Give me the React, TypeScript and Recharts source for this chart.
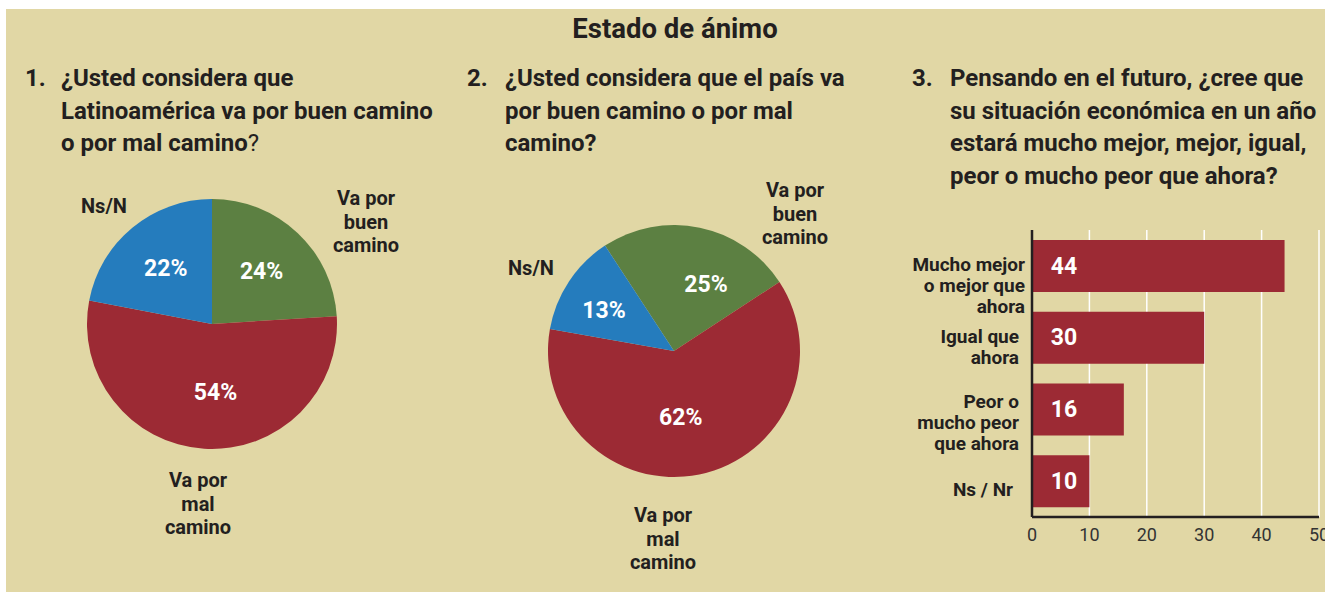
import { Bar, BarChart, CartesianGrid, Cell, LabelList, Pie, PieChart, XAxis, YAxis } from "recharts"

const COR = {
  fondo: "#e1d7a5",
  rojo: "#9c2a34",
  verde: "#5c8042",
  azul: "#257cbd",
  texto: "#231f20",
  eje: "#333333",
}
const FONTE = "Roboto, 'Liberation Sans', Arial, sans-serif"

const titulo = "Estado de ánimo"

const pregunta1 = ["¿Usted considera que", "Latinoamérica va por buen camino", "o por mal camino"]
const pregunta2 = ["¿Usted considera que el país va", "por buen camino o por mal", "camino?"]
const pregunta3 = [
  "Pensando en el futuro, ¿cree que",
  "su situación económica en un año",
  "estará mucho mejor, mejor, igual,",
  "peor o mucho peor que ahora?",
]

// pies: mismo orden de rebanadas en los dos
const rebanadas = [["Va por", "buen", "camino"], ["Va por", "mal", "camino"], ["Ns/N"]]
const latam = [24, 54, 22]
const pais = [25, 62, 13]
const coresPie = [COR.verde, COR.rojo, COR.azul]

// barras
const situacion = ["Mucho mejor|o mejor que|ahora", "Igual que|ahora", "Peor o|mucho peor|que ahora", "Ns / Nr"]
const situacionValores = [44, 30, 16, 10]
const ticksX = [0, 10, 20, 30, 40, 50]

const dadosLatam = rebanadas.map((n, i) => ({ nome: n.join(" "), valor: latam[i] }))
const dadosPais = rebanadas.map((n, i) => ({ nome: n.join(" "), valor: pais[i] }))
const dadosSituacion = situacion.map((c, i) => ({ cat: c, valor: situacionValores[i] }))

// posiciones de los nombres fuera de los pies
const posNomes1 = [
  { x: 366, y: 205, anchor: "middle" },
  { x: 198, y: 487, anchor: "middle" },
  { x: 81, y: 213, anchor: "start" },
]
const posNomes2 = [
  { x: 795, y: 197, anchor: "middle" },
  { x: 663, y: 522, anchor: "middle" },
  { x: 508, y: 275, anchor: "start" },
]

// pequeños corrimientos de los porcentajes dentro de cada rebanada
const ajustePct1 = [
  { dx: 0, dy: 0 },
  { dx: 8, dy: -4 },
  { dx: 0, dy: 0 },
]
const ajustePct2 = [
  { dx: 17, dy: 5 },
  { dx: -8, dy: -5 },
  { dx: -9, dy: 0 },
]

// ajuste fino de las etiquetas del eje Y (borde derecho, primera línea)
const ajusteTick = [
  { dx: -7, dy: 5 },
  { dx: -13, dy: 5 },
  { dx: -13, dy: -1 },
  { dx: -19, dy: 15 },
]

const RAD = Math.PI / 180

function rotuloPct(ajuste: { dx: number; dy: number }[]) {
  return (p: any) => {
    const r = p.outerRadius * 0.58
    const aj = ajuste[p.index] || { dx: 0, dy: 0 }
    const x = p.cx + r * Math.cos(-p.midAngle * RAD) + aj.dx
    const y = p.cy + r * Math.sin(-p.midAngle * RAD) + aj.dy
    return (
      <text
        x={x}
        y={y}
        fill="#fff"
        textAnchor="middle"
        dominantBaseline="central"
        fontFamily={FONTE}
        fontWeight={700}
        fontSize={23}
      >
        {p.value}%
      </text>
    )
  }
}

function Pastel({
  data,
  cx,
  cy,
  r,
  inicio,
  ajuste,
}: {
  data: any[]
  cx: number
  cy: number
  r: number
  inicio: number
  ajuste: { dx: number; dy: number }[]
}) {
  const lado = 300
  return (
    <div style={{ position: "absolute", left: cx - lado / 2, top: cy - lado / 2 }}>
      <PieChart width={lado} height={lado} margin={{ top: 0, right: 0, bottom: 0, left: 0 }}>
        <Pie
          data={data}
          dataKey="valor"
          nameKey="nome"
          cx="50%"
          cy="50%"
          outerRadius={r}
          startAngle={inicio}
          endAngle={inicio - 360}
          stroke="none"
          label={rotuloPct(ajuste)}
          labelLine={false}
          isAnimationActive={false}
        >
          {data.map((_, i) => (
            <Cell key={i} fill={coresPie[i]} />
          ))}
        </Pie>
      </PieChart>
    </div>
  )
}

function TickCategoria(p: any) {
  const idx = typeof p.index === "number" ? p.index : situacion.indexOf(p.payload.value)
  const aj = ajusteTick[idx] || { dx: -10, dy: 5 }
  const linhas = String(p.payload.value).split("|")
  const x = 132 + aj.dx
  return (
    <text
      x={x}
      y={p.y + aj.dy}
      textAnchor="end"
      fill={COR.texto}
      fontFamily={FONTE}
      fontWeight={700}
      fontSize={19}
    >
      {linhas.map((l, i) => (
        <tspan key={i} x={x} dy={i === 0 ? 0 : 21}>
          {l}
        </tspan>
      ))}
    </text>
  )
}

function rotuloBarra(p: any) {
  return (
    <text
      x={p.x + 32}
      y={p.y + p.height / 2}
      fill="#fff"
      textAnchor="middle"
      dominantBaseline="central"
      fontFamily={FONTE}
      fontWeight={700}
      fontSize={23}
    >
      {p.value}
    </text>
  )
}

function Pregunta({ num, linhas, x, xTexto, fim }: { num: string; linhas: string[]; x: number; xTexto: number; fim?: string }) {
  return (
    <g fontFamily={FONTE} fontWeight={700} fontSize={24} fill={COR.texto}>
      <text x={x} y={86}>{num}</text>
      {linhas.map((l, i) => (
        <text key={i} x={xTexto} y={86 + i * 32.6}>
          {l}
          {fim && i === linhas.length - 1 ? <tspan fontWeight={400}>{fim}</tspan> : null}
        </text>
      ))}
    </g>
  )
}

function NomesPie({ pos }: { pos: { x: number; y: number; anchor: string }[] }) {
  return (
    <g fontFamily={FONTE} fontWeight={700} fontSize={20} fill={COR.texto}>
      {rebanadas.map((linhas, i) => (
        <text key={i} textAnchor={pos[i].anchor as any}>
          {linhas.map((l, j) => (
            <tspan key={j} x={pos[i].x} y={pos[i].y + j * 23.5}>
              {l}
            </tspan>
          ))}
        </text>
      ))}
    </g>
  )
}

export default function App() {
  return (
    <div
      style={{
        position: "absolute",
        left: 0,
        top: 0,
        width: 1325,
        height: 593,
        overflow: "hidden",
        background: "#fff",
        fontFamily: FONTE,
      }}
    >
      <div style={{ position: "absolute", left: 6, top: 9, width: 1319, height: 583, background: COR.fondo }} />

      <Pastel data={dadosLatam} cx={212} cy={324} r={125} inicio={90} ajuste={ajustePct1} />
      <Pastel data={dadosPais} cx={674} cy={351} r={126} inicio={123.2} ajuste={ajustePct2} />

      <div style={{ position: "absolute", left: 900, top: 220 }}>
        <BarChart
          width={440}
          height={340}
          data={dadosSituacion}
          layout="vertical"
          margin={{ top: 10, right: 21, bottom: 13, left: 0 }}
        >
          <CartesianGrid horizontal={false} stroke="#ffffff" strokeWidth={1.5} />
          <XAxis
            type="number"
            domain={[0, 50]}
            ticks={ticksX}
            height={30}
            tickLine={false}
            tickMargin={5}
            axisLine={{ stroke: COR.texto, strokeWidth: 2.5 }}
            tick={{ fill: COR.eje, fontSize: 18, fontFamily: FONTE }}
          />
          <YAxis
            type="category"
            dataKey="cat"
            width={132}
            tickLine={false}
            axisLine={{ stroke: COR.texto, strokeWidth: 2.5 }}
            tick={<TickCategoria />}
            interval={0}
          />
          <Bar dataKey="valor" fill={COR.rojo} barSize={52} isAnimationActive={false}>
            <LabelList dataKey="valor" content={rotuloBarra} />
          </Bar>
        </BarChart>
      </div>

      <svg width={1325} height={593} style={{ position: "absolute", left: 0, top: 0, pointerEvents: "none" }}>
        <text x={675} y={38} textAnchor="middle" fontFamily={FONTE} fontWeight={700} fontSize={27.5} fill={COR.texto}>
          {titulo}
        </text>
        <Pregunta num="1." linhas={pregunta1} x={25} xTexto={61} fim="?" />
        <Pregunta num="2." linhas={pregunta2} x={467} xTexto={505} />
        <Pregunta num="3." linhas={pregunta3} x={912} xTexto={950} />
        <NomesPie pos={posNomes1} />
        <NomesPie pos={posNomes2} />
      </svg>
    </div>
  )
}
